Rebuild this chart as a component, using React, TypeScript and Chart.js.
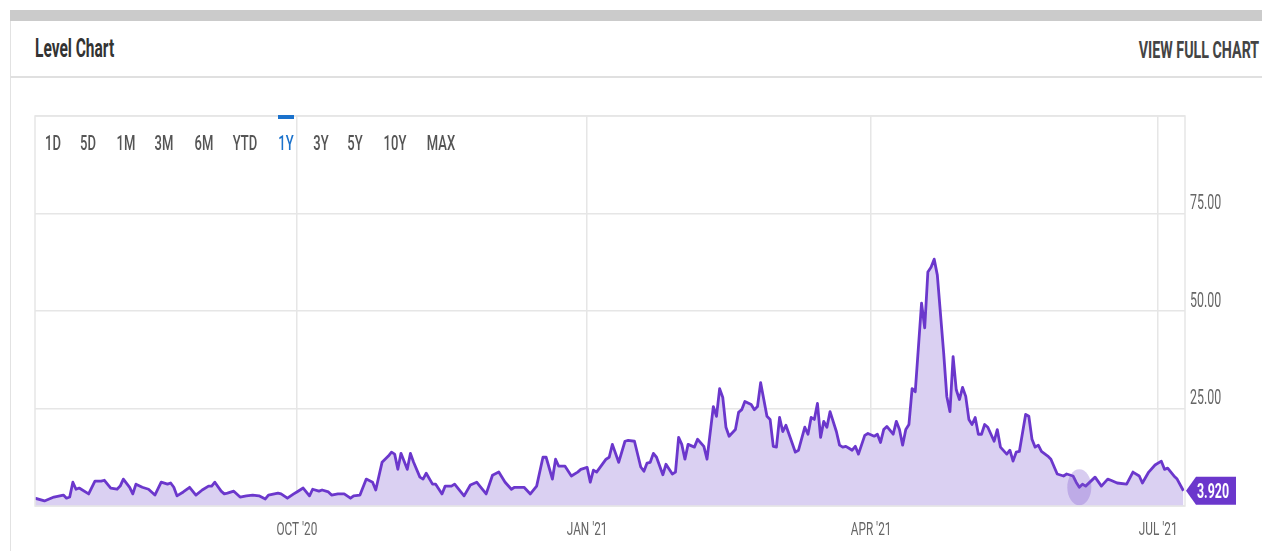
import React, { useEffect, useRef } from "react";
import { Chart, registerables } from "chart.js";

Chart.register(...registerables);

// ---- data (day offsets from 9 Jul 2020, level values) ----
const dayOffsets = [
  1, 4, 7, 10, 11, 12, 13, 14, 15, 18, 20, 22, 23, 25, 27, 28, 29, 31, 32, 33,
  35, 37, 39, 41, 43, 44, 45, 46, 48, 50, 52, 54, 56, 57, 58, 60, 61, 62, 64, 66,
  68, 70, 72, 74, 75, 78, 79, 81, 83, 84, 86, 88, 89, 91, 92, 94, 95, 97, 99, 101,
  102, 104, 106, 108, 109, 111, 113, 114, 115, 116, 117, 118, 119, 120, 121, 123, 124, 125, 127, 128,
  130, 131, 133, 134, 137, 139, 141, 142, 144, 146, 148, 150, 152, 153, 156, 158, 160, 162, 163, 165,
  166, 167, 169, 171, 173, 174, 176, 177, 178, 179, 182, 183, 184, 186, 188, 189, 191, 193, 194, 195,
  196, 197, 198, 200, 201, 203, 204, 205, 206, 207, 208, 210, 211, 213, 214, 216, 217, 218, 219, 220,
  221, 223, 224, 225, 226, 228, 229, 230, 231, 232, 233, 234, 235, 236, 237, 238, 239, 240, 242, 243,
  245, 246, 247, 248, 249, 250, 251, 252, 253, 255, 256, 257, 258, 259, 260, 261, 262, 264, 265, 267,
  268, 269, 270, 271, 273, 274, 275, 276, 277, 278, 279, 280, 282, 283, 284, 285, 286, 287, 289, 290,
  291, 292, 293, 294, 295, 296, 297, 298, 299, 300, 301, 302, 303, 305, 306, 307, 309, 310, 311, 312,
  313, 315, 316, 317, 318, 319, 320, 322, 323, 325, 327, 328, 330, 331, 332, 333, 334, 337, 339, 341,
  342, 344, 347, 349, 351, 352, 354, 356, 358, 359, 360, 362, 363, 365,
];
const levels = [
  2.0, 1.3, 2.3, 2.8, 2.0, 2.3, 6.1, 4.3, 4.6, 3.1, 6.4, 6.4, 6.6, 4.6, 4.3, 5.1, 6.9, 4.8, 3.1, 5.6,
  4.8, 4.3, 2.8, 6.1, 5.6, 5.9, 4.8, 2.6, 3.6, 4.8, 2.8, 4.1, 5.1, 5.1, 6.1, 3.8, 3.1, 3.3, 3.8, 2.3,
  2.6, 2.8, 2.6, 1.8, 2.8, 3.3, 3.1, 2.0, 3.1, 3.6, 4.6, 2.6, 4.3, 3.8, 4.1, 3.6, 2.8, 3.1, 3.1, 2.0,
  2.6, 2.8, 6.9, 6.1, 4.1, 11.2, 12.8, 13.8, 13.3, 9.4, 13.5, 11.5, 9.4, 13.5, 11.2, 7.4, 6.9, 8.4, 5.6, 5.6,
  3.1, 5.1, 5.1, 5.6, 2.6, 5.4, 6.1, 5.1, 3.1, 7.9, 8.7, 6.1, 4.3, 4.8, 4.8, 3.1, 5.1, 12.5, 12.5, 6.9,
  12.0, 10.2, 10.2, 7.7, 8.7, 9.4, 9.9, 6.1, 9.2, 8.7, 12.0, 12.5, 15.8, 11.2, 16.6, 16.8, 16.6, 10.0, 8.9, 11.0,
  11.2, 13.5, 12.5, 8.0, 10.7, 8.2, 8.7, 17.6, 15.8, 12.0, 15.8, 15.1, 17.1, 15.3, 12.0, 25.5, 23.0, 30.1, 27.8, 20.2,
  17.9, 19.6, 24.0, 24.7, 26.8, 26.0, 24.7, 25.5, 31.6, 27.3, 23.0, 22.2, 15.3, 15.1, 22.7, 19.1, 20.7, 18.4, 13.8, 14.3,
  20.2, 18.4, 22.7, 22.2, 26.3, 17.6, 21.7, 20.2, 24.2, 19.1, 15.6, 15.1, 15.3, 14.8, 14.3, 15.3, 13.3, 18.1, 18.6, 17.9,
  18.4, 16.3, 19.6, 20.4, 18.4, 21.7, 19.6, 15.6, 19.6, 20.9, 30.1, 29.3, 52.0, 45.7, 60.0, 61.2, 63.3, 59.2, 39.3, 28.1,
  24.2, 38.3, 29.8, 27.3, 30.4, 28.1, 22.2, 20.9, 22.7, 18.4, 18.4, 20.9, 20.2, 16.6, 19.6, 15.1, 13.3, 14.3, 11.5, 13.8,
  14.0, 23.5, 23.0, 17.1, 15.1, 15.6, 14.0, 12.8, 12.0, 8.2, 7.7, 8.2, 7.7, 6.1, 4.8, 5.6, 5.1, 7.4, 5.1, 6.9,
  6.6, 5.9, 5.6, 8.7, 7.7, 5.9, 8.7, 10.5, 11.5, 9.4, 9.7, 7.7, 6.9, 3.92,
];
const xTickDays = [84, 176, 266, 357];
const xTickLabels = ["OCT '20", "JAN '21", "APR '21", "JUL '21"];
const yGridValues = [0, 25, 50, 75, 100];
const yLabelValues = [25, 50, 75];
const rangeButtons = ["1D", "5D", "1M", "3M", "6M", "YTD", "1Y", "3Y", "5Y", "10Y", "MAX"];
const activeRange = "1Y";
const hoverDay = 332;
const titleText = "Level Chart";
const linkText = "VIEW FULL CHART";

// ---- layout / style ----
const buttonCenters = [52.5, 88, 126, 164, 203.5, 245, 285.5, 320.5, 355, 394.5, 441];
const SQ = 0.62;
const LINE = "#6b37cc";
const FILL = "#dad0f2";
const GRID = "#e6e6e6";

function squeezed(ctx: CanvasRenderingContext2D, text: string, x: number, y: number, align: CanvasTextAlign) {
  ctx.save();
  ctx.translate(x, y);
  ctx.scale(SQ, 1);
  ctx.textAlign = align;
  ctx.textBaseline = "alphabetic";
  ctx.fillText(text, 0, 0);
  ctx.restore();
}

const overlayPlugin = {
  id: "overlay",
  afterDatasetsDraw(chart: any) {
    const { ctx, chartArea, scales } = chart;
    const hi = dayOffsets.indexOf(hoverDay);
    const hx = scales.x.getPixelForValue(hoverDay);
    const hy = scales.y.getPixelForValue(levels[hi]);
    ctx.save();
    ctx.beginPath();
    ctx.rect(chartArea.left, chartArea.top, chartArea.right - chartArea.left, chartArea.bottom - chartArea.top);
    ctx.clip();
    ctx.fillStyle = "rgba(125, 85, 205, 0.3)";
    ctx.beginPath();
    ctx.ellipse(hx, hy, 12, 18, 0, 0, Math.PI * 2);
    ctx.fill();
    ctx.restore();
  },
  afterDraw(chart: any) {
    const { ctx, chartArea, scales } = chart;
    ctx.save();
    // plot frame
    ctx.strokeStyle = GRID;
    ctx.lineWidth = 1.5;
    ctx.strokeRect(chartArea.left, chartArea.top, chartArea.right - chartArea.left, chartArea.bottom - chartArea.top);
    // y labels
    ctx.fillStyle = "#666";
    ctx.font = "20px Roboto";
    yLabelValues.forEach((v) => {
      const py = scales.y.getPixelForValue(v);
      squeezed(ctx, v.toFixed(2), chartArea.right + 5, py - 4.5, "left");
    });
    // x labels
    ctx.font = "19px Roboto";
    xTickDays.forEach((d, i) => {
      const px = scales.x.getPixelForValue(d);
      squeezed(ctx, xTickLabels[i], px, chartArea.bottom + 29, "center");
    });
    // last value tag
    const last = levels[levels.length - 1];
    const ly = scales.y.getPixelForValue(last);
    const tip = chartArea.right + 1;
    const right = chartArea.right + 51;
    ctx.fillStyle = LINE;
    ctx.beginPath();
    ctx.moveTo(tip, ly);
    ctx.lineTo(tip + 10, ly - 14);
    ctx.lineTo(right, ly - 14);
    ctx.lineTo(right, ly + 14);
    ctx.lineTo(tip + 10, ly + 14);
    ctx.closePath();
    ctx.fill();
    ctx.fillStyle = "#fff";
    ctx.font = "bold 20px Roboto";
    squeezed(ctx, last.toFixed(3), tip + 11, ly + 7, "left");
    ctx.restore();
  },
};

function ChartCanvas() {
  const ref = useRef<HTMLCanvasElement | null>(null);
  useEffect(() => {
    if (!ref.current) return;
    const chart = new Chart(ref.current, {
      type: "line",
      data: {
        datasets: [
          {
            data: dayOffsets.map((d, i) => ({ x: d, y: levels[i] })),
            borderColor: LINE,
            backgroundColor: FILL,
            borderWidth: 2.8,
            borderJoinStyle: "round",
            fill: "origin",
            pointRadius: 0,
            tension: 0,
          },
        ],
      },
      options: {
        animation: false,
        responsive: false,
        devicePixelRatio: 1,
        layout: { padding: { left: 5, top: 6, right: 0, bottom: 0 } },
        plugins: { legend: { display: false }, tooltip: { enabled: false } },
        scales: {
          x: {
            type: "linear",
            min: 1,
            max: 365.5,
            afterBuildTicks: (s: any) => {
              s.ticks = xTickDays.map((v) => ({ value: v }));
            },
            afterFit: (s: any) => {
              s.height = 45;
            },
            ticks: { display: false },
            grid: { color: GRID, lineWidth: 1.5, drawTicks: false },
            border: { display: false },
          },
          y: {
            position: "right",
            min: 0,
            max: 100,
            afterBuildTicks: (s: any) => {
              s.ticks = yGridValues.map((v) => ({ value: v }));
            },
            afterFit: (s: any) => {
              s.width = 77;
            },
            ticks: { display: false },
            grid: { color: GRID, lineWidth: 1.5, drawTicks: false },
            border: { display: false },
          },
        },
      },
      plugins: [overlayPlugin],
    } as any);
    return () => chart.destroy();
  }, []);
  return <canvas ref={ref} width={1232} height={441} style={{ display: "block" }} />;
}

export default function App() {
  return (
    <div
      style={{
        position: "fixed",
        left: 0,
        top: 0,
        width: 1262,
        height: 551,
        background: "#fff",
        overflow: "hidden",
        fontFamily: "Roboto, sans-serif",
      }}
    >
      <div style={{ position: "absolute", left: 10, top: 10, width: 1252, height: 11, background: "#cbcbcb" }} />
      <div style={{ position: "absolute", left: 10, top: 21, width: 1, height: 530, background: "#e2e2e2" }} />
      <div style={{ position: "absolute", left: 10, top: 76, width: 1252, height: 2, background: "#e0e0e0" }} />
      <div
        style={{
          position: "absolute",
          left: 35,
          top: 35.6,
          fontSize: 25,
          lineHeight: "25px",
          fontWeight: 700,
          color: "#333",
          whiteSpace: "nowrap",
          transform: `scaleX(${SQ})`,
          transformOrigin: "left top",
        }}
      >
        {titleText}
      </div>
      <div
        style={{
          position: "absolute",
          right: 3,
          top: 38.9,
          fontSize: 23,
          lineHeight: "23px",
          fontWeight: 700,
          color: "#444",
          whiteSpace: "nowrap",
          transform: `scaleX(${SQ})`,
          transformOrigin: "right top",
        }}
      >
        {linkText}
      </div>
      <div style={{ position: "absolute", left: 30, top: 110, width: 1232, height: 441 }}>
        <ChartCanvas />
      </div>
      {rangeButtons.map((b, i) => (
        <div
          key={b}
          style={{
            position: "absolute",
            left: buttonCenters[i],
            top: 133,
            fontSize: 21,
            lineHeight: "21px",
            fontWeight: 500,
            color: b === activeRange ? "#1b72cc" : "#555",
            whiteSpace: "nowrap",
            transform: `translateX(-50%) scaleX(${SQ})`,
            transformOrigin: "center top",
          }}
        >
          {b}
        </div>
      ))}
      <div
        style={{
          position: "absolute",
          left: buttonCenters[rangeButtons.indexOf(activeRange)] - 8,
          top: 115,
          width: 16,
          height: 4,
          background: "#1b72cc",
        }}
      />
    </div>
  );
}
